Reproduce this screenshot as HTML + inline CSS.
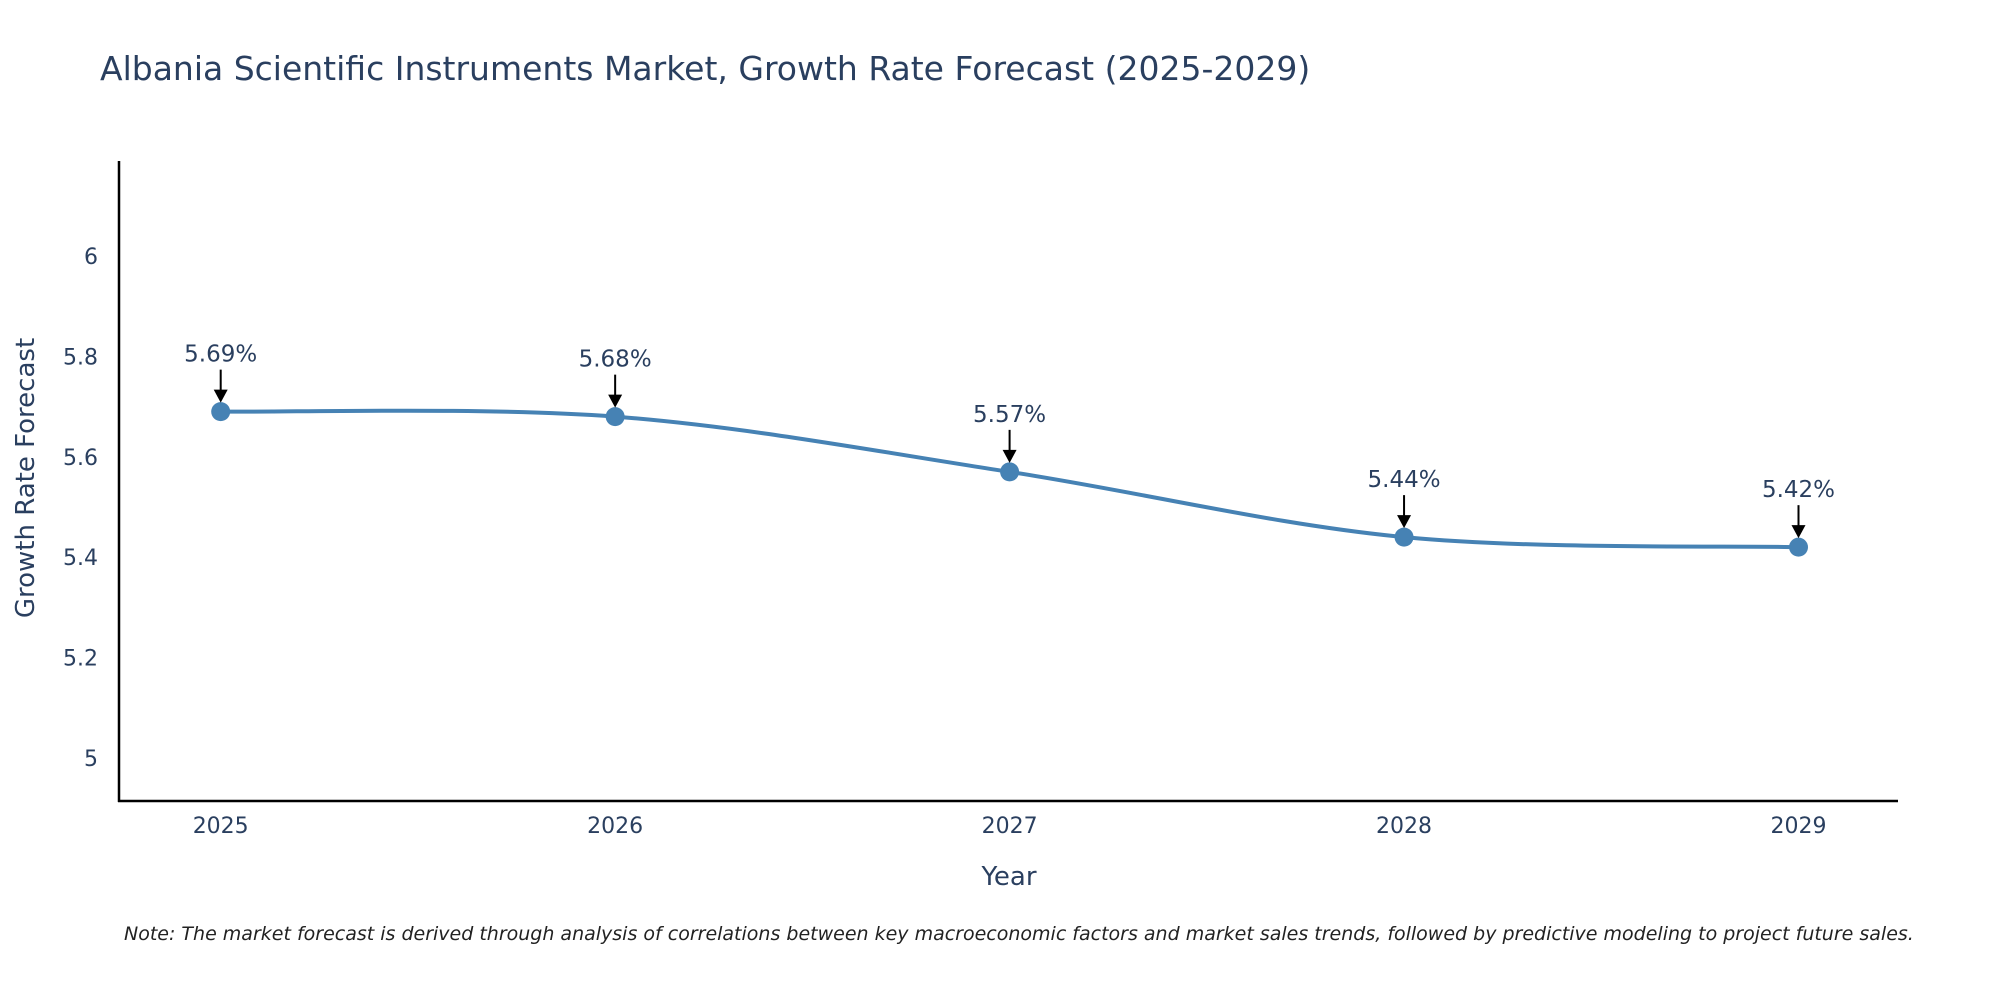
<!DOCTYPE html>
<html><head><meta charset="utf-8"><style>
body{margin:0;background:#fff;}
svg text{font-family:"DejaVu Sans","Liberation Sans",sans-serif;}
</style></head><body>
<svg id="chart" width="2000" height="1000" xmlns="http://www.w3.org/2000/svg">
<text x="100" y="80" font-size="33" fill="#2a3f5f">Albania Scientific Instruments Market, Growth Rate Forecast (2025-2029)</text>
<g id="yticks"></g>
<g id="xticks"></g>
<line x1="119" y1="161" x2="119" y2="802" stroke="#000" stroke-width="2.5"/>
<line x1="118" y1="801" x2="1898" y2="801" stroke="#000" stroke-width="2.5"/>
<path id="line" fill="none" stroke="#4682b4" stroke-width="4"/>
<g id="points"></g>
<g id="annots"></g>
<text x="1009" y="885" font-size="26" fill="#2a3f5f" text-anchor="middle">Year</text>
<text transform="translate(34,478) rotate(-90)" font-size="26" fill="#2a3f5f" text-anchor="middle">Growth Rate Forecast</text>
<text x="124" y="940" font-size="19" font-style="italic" fill="#222">Note: The market forecast is derived through analysis of correlations between key macroeconomic factors and market sales trends, followed by predictive modeling to project future sales.</text>
</svg>
<script>
const years = [2025, 2026, 2027, 2028, 2029];
const values = [5.69, 5.68, 5.57, 5.44, 5.42];
const labels = ["5.69%", "5.68%", "5.57%", "5.44%", "5.42%"];
const yTickVals = [5, 5.2, 5.4, 5.6, 5.8, 6];
const yTickLabels = ["5", "5.2", "5.4", "5.6", "5.8", "6"];

const NS = "http://www.w3.org/2000/svg";
function xs(yr){ return 220.7 + (yr - 2025) * 394.45; }
function ys(v){ return 758 - (v - 5) * 502; }
function mk(tag, attrs, parent){ const e=document.createElementNS(NS,tag); for(const k in attrs) e.setAttribute(k, attrs[k]); parent.appendChild(e); return e; }

const yt = document.getElementById('yticks');
yTickVals.forEach((v,i)=>{
  const t = mk('text',{x:98,y:ys(v)+8,'font-size':22,fill:'#2a3f5f','text-anchor':'end'},yt);
  
  
  t.textContent = yTickLabels[i];
});
const xt = document.getElementById('xticks');
years.forEach(yr=>{
  const t = mk('text',{x:xs(yr),y:833,'font-size':22,fill:'#2a3f5f','text-anchor':'middle'},xt);
  
  
  t.textContent = String(yr);
});

const pts = years.map((yr,i)=>[xs(yr), ys(values[i])]);
let d = 'M'+pts[0][0]+','+pts[0][1];
const s = 0.5/3*2;
for(let i=0;i<pts.length-1;i++){
  const p0=pts[Math.max(0,i-1)], p1=pts[i], p2=pts[i+1], p3=pts[Math.min(pts.length-1,i+2)];
  const c1=[p1[0]+(p2[0]-p0[0])*s/2, p1[1]+(p2[1]-p0[1])*s/2];
  const c2=[p2[0]-(p3[0]-p1[0])*s/2, p2[1]-(p3[1]-p1[1])*s/2];
  d += ' C'+c1[0]+','+c1[1]+' '+c2[0]+','+c2[1]+' '+p2[0]+','+p2[1];
}
document.getElementById('line').setAttribute('d', d);

const pg = document.getElementById('points');
const ag = document.getElementById('annots');
pts.forEach((p,i)=>{
  const c = mk('circle',{cx:p[0],cy:p[1],r:9.5,fill:'#4682b4'},pg);
  
  
  const l = mk('line',{x1:p[0],y1:p[1]-42,x2:p[0],y2:p[1]-20,stroke:'#000','stroke-width':2},ag);
  
  
  const h = mk('polygon',{points:(p[0]-7)+','+(p[1]-22)+' '+(p[0]+7)+','+(p[1]-22)+' '+p[0]+','+(p[1]-9),fill:'#000'},ag);
  
  
  const t = mk('text',{x:p[0],y:p[1]-50,'font-size':23,fill:'#2a3f5f','text-anchor':'middle'},ag);
  
  
  t.textContent = labels[i];
});
</script>
</body></html>
